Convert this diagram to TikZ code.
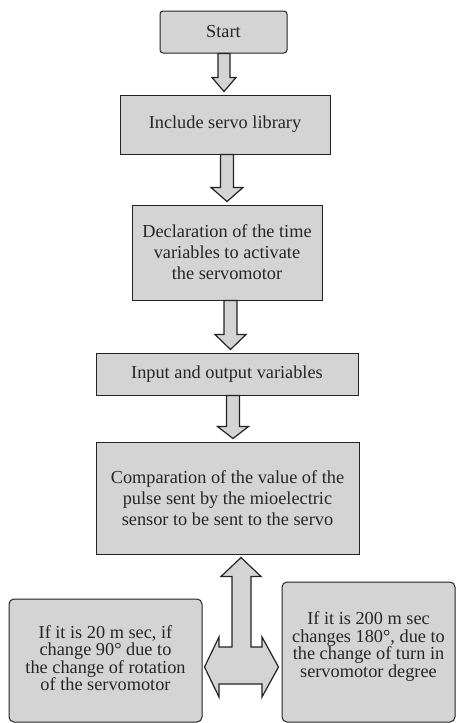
\documentclass[tikz,border=0pt]{standalone}
\usepackage{fontspec}
\setmainfont{Liberation Serif}
\usetikzlibrary{calc}
\definecolor{boxfill}{RGB}{212,212,212}
\definecolor{inkc}{RGB}{35,35,35}
\newcommand\downblock[7]{%
  \draw[blockarrow] let \p1=(#1.south), \p2=(#2.north) in
    ({(#3-#4)*1pt},\y1) -- ({(#3-#4)*1pt},{\y2+(3+#6)*1pt}) -- ({(#3-#5)*1pt},{\y2+(3+#6)*1pt})
    -- ({#3*1pt},{\y2+3pt}) -- ({(#3+#5)*1pt},{\y2+(3+#6)*1pt}) -- ({(#3+#4)*1pt},{\y2+(3+#6)*1pt})
    -- ({(#3+#4)*1pt},\y1) -- cycle;}
\begin{document}
\begin{tikzpicture}[x=1pt,y=-1pt,
  stepbox/.style={draw=inkc, line width=1pt, fill=boxfill, text=black!85, align=center,
    font=\fontsize{18.3}{21}\selectfont, inner sep=0pt},
  sidebox/.style={stepbox, rounded corners=5pt, font=\fontsize{18.3}{17.6}\selectfont},
  blockarrow/.style={draw=inkc, line width=1.2pt, fill=boxfill, line join=miter}]
\useasboundingbox (0,0) rectangle (456,723);

\node[stepbox, rounded corners=3pt, minimum width=127pt, minimum height=42pt] (start) at (223.5,32) {Start};
\node[stepbox, minimum width=210pt, minimum height=59pt] (lib) at (225,124.5) {Include servo library};
\node[stepbox, minimum width=190pt, minimum height=95pt] (decl) at (227,252.5)
  {Declaration of the time\\variables to activate\\the servomotor};
\node[stepbox, minimum width=262pt, minimum height=42pt] (io) at (227,374) {Input and output variables};
\node[stepbox, minimum width=263pt, minimum height=112pt] (comp) at (227.5,498)
  {Comparation of the value of the\\pulse sent by the mioelectric\\sensor to be sent to the servo};
\node[sidebox, minimum width=193pt, minimum height=123pt, text depth=5pt] (left) at (105.5,660.5)
  {If it is 20 m sec, if\\change 90° due to\\the change of rotation\\of the servomotor};
\node[sidebox, minimum width=173pt, minimum height=140pt, text depth=15pt] (right) at (368.5,652)
  {If it is 200 m sec\\changes 180°, due to\\the change of turn in\\servomotor degree};

\downblock{start}{lib}{224}{6}{12}{14}{}
\downblock{lib}{decl}{227}{6.5}{16}{14}{}
\downblock{decl}{io}{230.5}{6.5}{15.5}{15}{}
\downblock{io}{comp}{233}{6.5}{15.5}{12}{}

\draw[blockarrow] let \p1=(comp.south), \p2=(left.east), \p3=(right.west) in
  (241pt,\y1-3pt) -- (261pt,\y1-22pt) -- (251pt,\y1-22pt) -- (251pt,-647pt) -- (262pt,-647pt)
  -- (262pt,-637pt) -- (\x3-3pt,-667pt) -- (262pt,-697pt) -- (262pt,-684pt) -- (219pt,-684pt)
  -- (219pt,-697pt) -- (\x2+2pt,-667pt) -- (219pt,-637pt) -- (219pt,-647pt) -- (232pt,-647pt)
  -- (232pt,\y1-22pt) -- (221pt,\y1-22pt) -- cycle;
\end{tikzpicture}
\end{document}
